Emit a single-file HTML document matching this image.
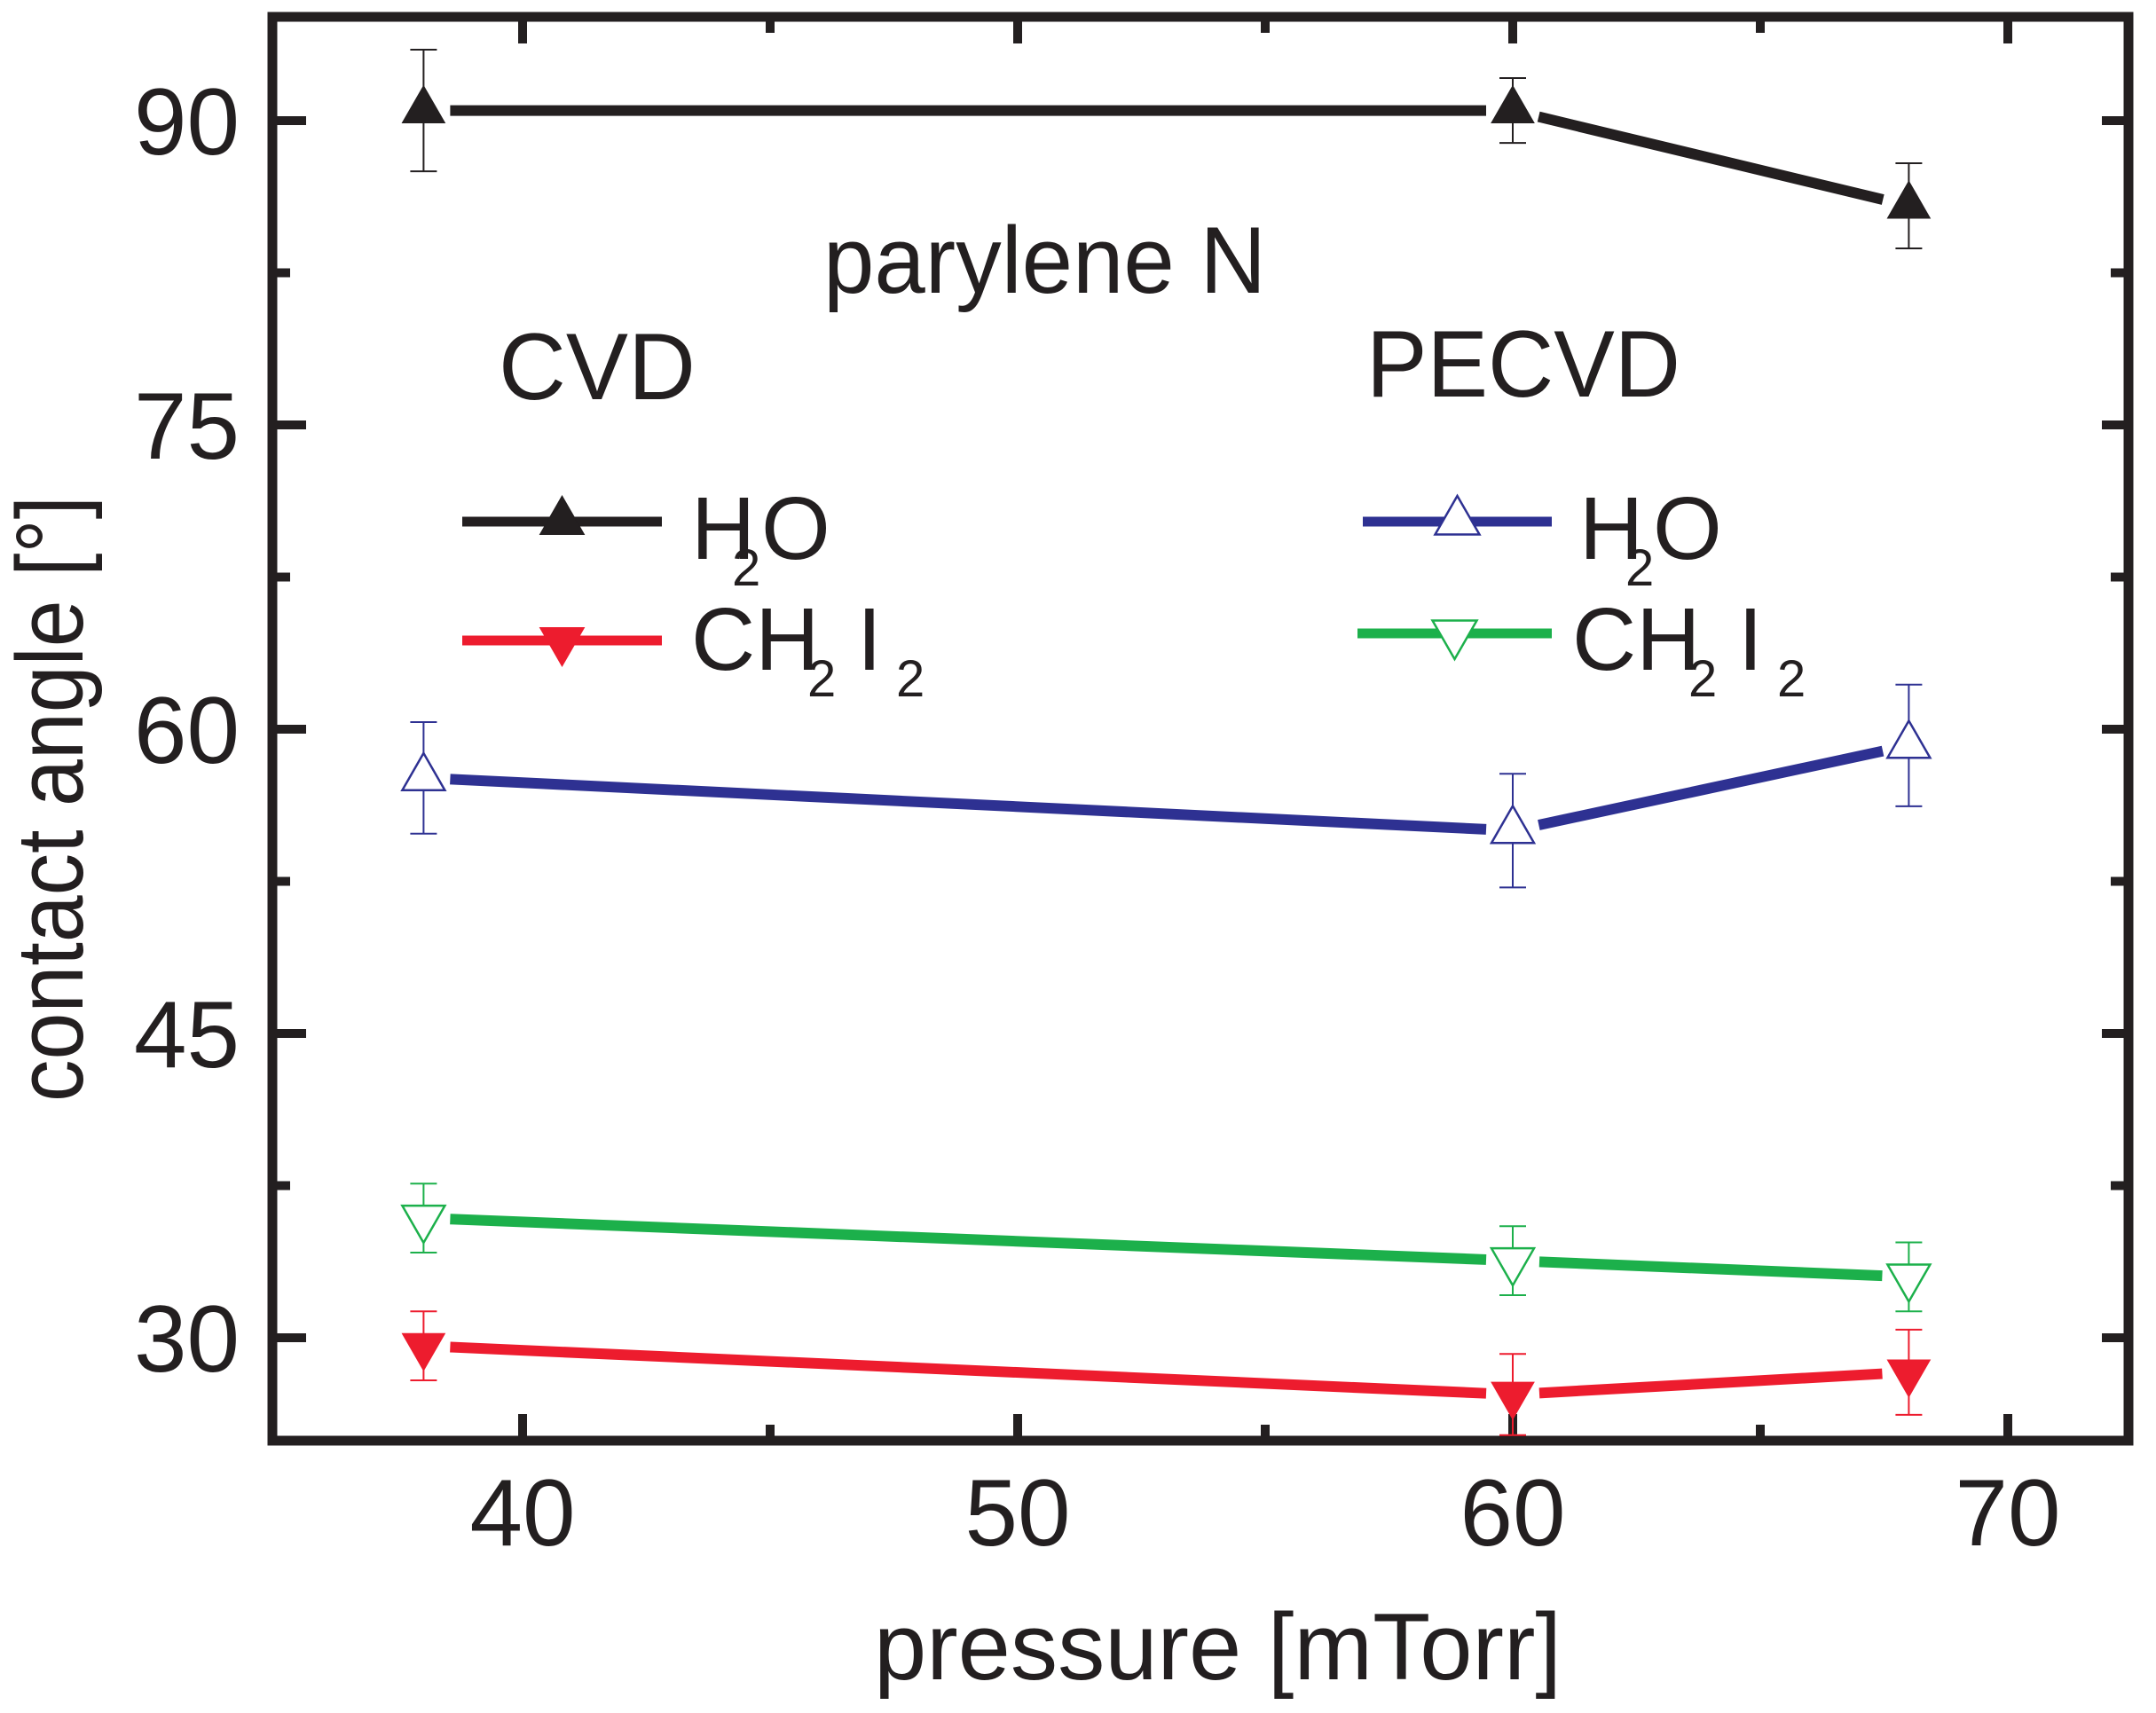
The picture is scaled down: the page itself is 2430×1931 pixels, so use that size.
<!DOCTYPE html>
<html><head><meta charset="utf-8"><style>
html,body{margin:0;padding:0;background:#fff;}
svg{display:block;font-family:"Liberation Sans",Arial,sans-serif;}
</style></head><body>
<svg id="chart" width="2430" height="1931" viewBox="0 0 2430 1931" xmlns="http://www.w3.org/2000/svg">
<rect x="0" y="0" width="2430" height="1931" fill="#fff"/>
<g id="axes"></g>
<g id="series"></g>
<text x="928" y="330" font-size="107" textLength="499" lengthAdjust="spacingAndGlyphs" fill="#231f20">parylene N</text>
<text x="562" y="450" font-size="107" textLength="222" lengthAdjust="spacingAndGlyphs" fill="#231f20">CVD</text>
<text x="1540" y="447" font-size="107" textLength="354" lengthAdjust="spacingAndGlyphs" fill="#231f20">PECVD</text>
<g id="legend"></g>
<text x="985" y="1893" font-size="107" textLength="775" lengthAdjust="spacingAndGlyphs" fill="#231f20">pressure [mTorr]</text>
<text transform="translate(93,1242) rotate(-90)" x="0" y="0" font-size="107" textLength="683" lengthAdjust="spacingAndGlyphs" fill="#231f20">contact angle [°]</text>
</svg>
<script>
const pressures = [38, 60, 68];
const cvdH2O = [90.5, 90.5, 85.8];
const cvdH2OErr = [3.0, 1.6, 2.1];
const cvdCH2I2 = [29.6, 27.2, 28.3];
const cvdCH2I2Err = [1.7, 2.0, 2.1];
const pecvdH2O = [57.6, 55.0, 59.2];
const pecvdH2OErr = [2.75, 2.8, 3.0];
const pecvdCH2I2 = [35.9, 33.8, 33.0];
const pecvdCH2I2Err = [1.7, 1.7, 1.7];
const xTicks = [40, 50, 60, 70];
const xMinorTicks = [45, 55, 65];
const yTicks = [30, 45, 60, 75, 90];
const yMinorTicks = [37.5, 52.5, 67.5, 82.5];

const NS = "http://www.w3.org/2000/svg";
const L = 307, R = 2399, T = 19, B = 1624;
function xs(v){ return 589 + (v - 40) * (2263 - 589) / 30; }
function ys(v){ return 1508 - (v - 30) * (1508 - 136) / 60; }
function mk(tag, attrs, parent){
  const e = document.createElementNS(NS, tag);
  for (const k in attrs) e.setAttribute(k, attrs[k]);
  parent.appendChild(e);
  return e;
}
const axes = document.getElementById('axes');
const ink = '#231f20';
let fr = mk('rect', {x:L, y:T, width:R-L, height:B-T, fill:'none', stroke:ink, 'stroke-width':11}, axes);


xTicks.forEach(v => {
  const x = xs(v);
  let t1 = mk('line', {x1:x, x2:x, y1:B, y2:B-30, stroke:ink, 'stroke-width':10}, axes);
  
  
  let t2 = mk('line', {x1:x, x2:x, y1:T, y2:T+30, stroke:ink, 'stroke-width':10}, axes);
  
  
  let lb = mk('text', {x:x, y:1742, 'font-size':107, 'text-anchor':'middle', fill:ink}, axes);
  lb.textContent = v;
  
  
});
xMinorTicks.forEach(v => {
  const x = xs(v);
  let t1 = mk('line', {x1:x, x2:x, y1:B, y2:B-18, stroke:ink, 'stroke-width':10}, axes);
  
  
  let t2 = mk('line', {x1:x, x2:x, y1:T, y2:T+18, stroke:ink, 'stroke-width':10}, axes);
  
  
});
yTicks.forEach(v => {
  const y = ys(v);
  let t1 = mk('line', {x1:L, x2:L+38, y1:y, y2:y, stroke:ink, 'stroke-width':10}, axes);
  
  
  let t2 = mk('line', {x1:R, x2:R-30, y1:y, y2:y, stroke:ink, 'stroke-width':10}, axes);
  
  
  let lb = mk('text', {x:270, y:y+38, 'font-size':107, 'text-anchor':'end', fill:ink}, axes);
  lb.textContent = v;
  
  
});
yMinorTicks.forEach(v => {
  const y = ys(v);
  let t1 = mk('line', {x1:L, x2:L+20, y1:y, y2:y, stroke:ink, 'stroke-width':10}, axes);
  
  
  let t2 = mk('line', {x1:R, x2:R-20, y1:y, y2:y, stroke:ink, 'stroke-width':10}, axes);
  
  
});

function tri(cx, cy, up, filled, color, parent, w){
  w = w || 48; const h = w * 0.87;
  let pts;
  if (up) pts = [[cx, cy-h*2/3],[cx-w/2, cy+h/3],[cx+w/2, cy+h/3]];
  else pts = [[cx, cy+h*2/3],[cx-w/2, cy-h/3],[cx+w/2, cy-h/3]];
  return mk('polygon', {points: pts.map(p=>p.join(',')).join(' '),
    fill: filled ? color : '#fff', stroke: color, 'stroke-width': filled ? 1 : 2.5}, parent);
}
const seriesG = document.getElementById('series');
function drawSeries(name, vals, errs, color, up, filled){
  const g = mk('g', {}, seriesG);
  
  
  const gap = 30;
  for (let i = 0; i < vals.length - 1; i++){
    const x1 = xs(pressures[i]), y1 = ys(vals[i]), x2 = xs(pressures[i+1]), y2 = ys(vals[i+1]);
    const dx = x2-x1, dy = y2-y1, len = Math.hypot(dx, dy);
    const ux = dx/len, uy = dy/len;
    const seg = mk('line', {x1:x1+ux*gap, y1:y1+uy*gap, x2:x2-ux*gap, y2:y2-uy*gap, stroke:color, 'stroke-width':12}, g);
    
    
  }
  vals.forEach((v, i) => {
    const x = xs(pressures[i]), y = ys(v), e = errs[i] * (1508-136)/60;
    const eb = mk('path', {d:`M${x},${y-e}V${y+e}M${x-15},${y-e}H${x+15}M${x-15},${y+e}H${x+15}`, stroke:color, 'stroke-width':2, fill:'none'}, g);
    
    
    const m = tri(x, y, up, filled, color, g);
    
    
  });
}
drawSeries('cvd-h2o', cvdH2O, cvdH2OErr, '#231f20', true, true);
drawSeries('cvd-ch2i2', cvdCH2I2, cvdCH2I2Err, '#ed1c2e', false, true);
drawSeries('pecvd-h2o', pecvdH2O, pecvdH2OErr, '#2e3192', true, false);
drawSeries('pecvd-ch2i2', pecvdCH2I2, pecvdCH2I2Err, '#1cb04b', false, false);

const lg = document.getElementById('legend');
function legendEntry(name, x1, x2, y, color, up, filled, tx, ty, parts){
  const g = mk('g', {}, lg);
  
  
  mk('line', {x1:x1, x2:x2, y1:y, y2:y, stroke:color, 'stroke-width':11}, g);
  tri((x1+x2)/2, y, up, filled, color, g, 50);
  const t = mk('text', {x:tx, y:ty, 'font-size':100, fill:'#231f20'}, g);
  parts.forEach(p => {
    const s = mk('tspan', {}, t);
    if (p.x !== undefined) s.setAttribute('x', p.x);
    s.setAttribute('y', p.sub ? ty + 30 : ty);
    if (p.sub) s.setAttribute('font-size', 58);
    s.textContent = p.t;
  });
}
legendEntry('legend-cvd-h2o', 521, 746, 588, '#231f20', true, true, 779, 630,
  [{t:'H'},{t:'2',sub:true,x:825},{t:'O',x:858}]);
legendEntry('legend-cvd-ch2i2', 521, 746, 722, '#ed1c2e', false, true, 779, 755,
  [{t:'CH'},{t:'2',sub:true,x:910},{t:'I',x:966},{t:'2',sub:true,x:1010}]);
legendEntry('legend-pecvd-h2o', 1536, 1749, 588, '#2e3192', true, false, 1780, 630,
  [{t:'H'},{t:'2',sub:true,x:1832},{t:'O',x:1863}]);
legendEntry('legend-pecvd-ch2i2', 1530, 1749, 714, '#1cb04b', false, false, 1772, 755,
  [{t:'CH'},{t:'2',sub:true,x:1903},{t:'I',x:1959},{t:'2',sub:true,x:2003}]);
</script>
</body></html>
